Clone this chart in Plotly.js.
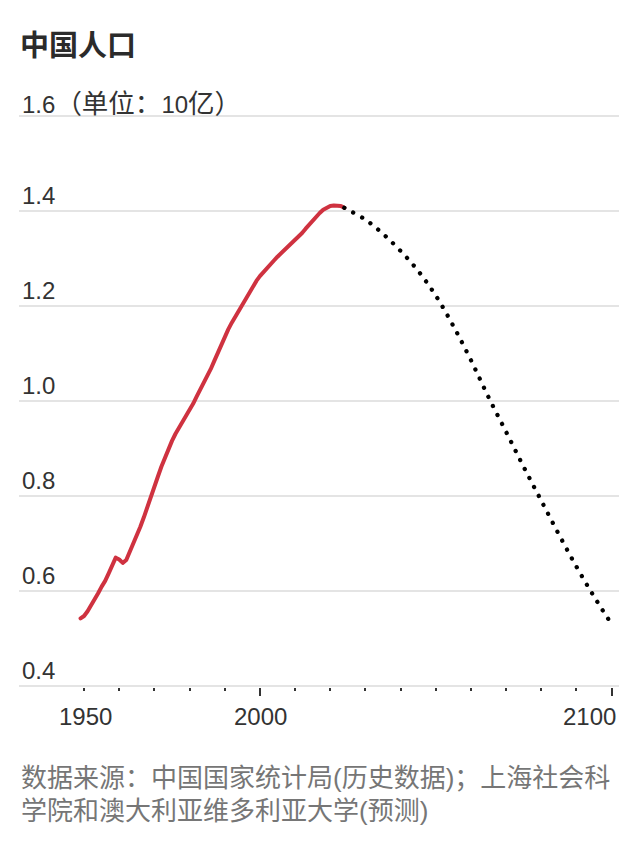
<!DOCTYPE html>
<html><head><meta charset="utf-8">
<script src="https://cdn.plot.ly/plotly-3.0.1.min.js"></script>
<style>
html,body{margin:0;padding:0;background:#fff;}
#chart{width:639px;height:852px;}
path.js-line{stroke-linecap:round;stroke-linejoin:round;}
</style></head><body><div id="chart"></div>
<script>
// ---- data (population, billions) ----
const historyYears = [1949,1950,1951,1952,1953,1954,1955,1956,1957,1958,1959,1960,1961,1962,1963,1964,1965,1966,1967,1968,1969,1970,1971,1972,1973,1974,1975,1976,1977,1978,1979,1980,1981,1982,1983,1984,1985,1986,1987,1988,1989,1990,1991,1992,1993,1994,1995,1996,1997,1998,1999,2000,2001,2002,2003,2004,2005,2006,2007,2008,2009,2010,2011,2012,2013,2014,2015,2016,2017,2018,2019,2020,2021,2022,2023,2024];
const historyValues = [0.542,0.547,0.557,0.569,0.581,0.595,0.609,0.621,0.637,0.653,0.670,0.666,0.659,0.665,0.682,0.698,0.715,0.735,0.755,0.775,0.796,0.818,0.841,0.862,0.882,0.900,0.916,0.931,0.943,0.956,0.969,0.981,0.994,1.009,1.023,1.037,1.051,1.067,1.084,1.102,1.119,1.135,1.151,1.165,1.178,1.192,1.205,1.218,1.230,1.242,1.253,1.263,1.272,1.280,1.288,1.296,1.304,1.311,1.318,1.325,1.331,1.338,1.345,1.354,1.363,1.372,1.380,1.388,1.396,1.403,1.408,1.411,1.412,1.412,1.411,1.407];
const forecastYears = [2024,2025,2030,2035,2040,2045,2050,2055,2060,2065,2070,2075,2080,2085,2090,2095,2100];
const forecastValues = [1.407,1.403,1.382,1.352,1.316,1.274,1.222,1.158,1.086,1.008,0.935,0.861,0.790,0.719,0.651,0.588,0.530];

const yTickValues = [0.4,0.6,0.8,1.0,1.2,1.4,1.6];
const yTickLabels = ['0.4','0.6','0.8','1.0','1.2','1.4','1.6（单位：10亿）'];
const xLabelYears = [1950,2000,2100];
const xLabelTexts = ['1950','2000','2100'];
const xMajorTicks = [2000,2100];
const xMinorTicks = [1950,1960,1970,1980,1990,2010,2020,2030,2040,2050,2060,2070,2080,2090];
const titleText = '中国人口';
const sourceLines = ['数据来源：中国国家统计局(历史数据)；上海社会科','学院和澳大利亚维多利亚大学(预测)'];

// ---- styling ----
const FONT = '"Liberation Sans", Arial, "Noto Sans CJK SC", sans-serif';
const TEXT = '#333333';
const GRAY = '#767676';
const RED = '#cf3240';

// CJK glyphs in the original are drawn a little larger than the Latin digits
function cjkSized(t, px){
  return t.replace(/([^\x00-\x7F]+)/g, '<span style="font-size:' + px + 'px">$1</span>');
}
const hasCJK = t => /[^\x00-\x7F]/.test(t);

const traces = [
  {x: historyYears, y: historyValues, type:'scatter', mode:'lines',
   line:{color:RED, width:4}, hoverinfo:'skip'},
  {x: forecastYears, y: forecastValues, type:'scatter', mode:'lines',
   line:{color:'#000000', width:4.3, dash:'0.1px,10px', shape:'spline', smoothing:1}, hoverinfo:'skip'}
];

const annotations = [];
yTickValues.forEach((v,i)=>{
  const t = yTickLabels[i];
  annotations.push({xref:'paper', x:0, xanchor:'left', xshift:1,
    yref:'y', y:v, yanchor:'middle', yshift: hasCJK(t) ? 12.5 : 15.5,
    text:cjkSized(t, 26.5), showarrow:false, font:{family:FONT, size:24, color:TEXT}});
});
xLabelYears.forEach((yr,i)=>{
  const last = i === xLabelYears.length-1;
  annotations.push({xref:'x', x:yr, xanchor: last ? 'right':'center', xshift: last ? 6 : 1,
    yref:'y', y:0.4, yanchor:'middle', yshift:-30.5,
    text:xLabelTexts[i], showarrow:false, font:{family:FONT, size:24, color:TEXT}});
});
sourceLines.forEach((t,i)=>{
  annotations.push({xref:'paper', x:0, xanchor:'left', xshift:0,
    yref:'paper', y:0, yanchor:'middle', yshift: i===0 ? -90.8 : -124.3,
    text:t, showarrow:false, font:{family:FONT, size:26, color:GRAY}});
});

const layout = {
  width:639, height:852,
  margin:{l:19, r:20, t:114.5, b:165.1, pad:0},
  paper_bgcolor:'#ffffff', plot_bgcolor:'#ffffff',
  showlegend:false, hovermode:false,
  title:{text:titleText, xref:'container', yref:'container', x:20/639, xanchor:'left',
         y:1-46/852, yanchor:'middle',
         font:{family:'"Noto Sans CJK SC", sans-serif', size:29, color:'#2b2b2b', weight:700}},
  xaxis:{range:[1931.5,2102.1], showgrid:false, zeroline:false, showline:false,
         tickmode:'array', tickvals:xMajorTicks, ticks:'outside', ticklen:8, tickwidth:2, tickcolor:TEXT,
         showticklabels:false,
         minor:{tickmode:'array', tickvals:xMinorTicks, ticks:'outside', ticklen:3, tickwidth:2, tickcolor:TEXT, showgrid:false}},
  yaxis:{range:[0.3975,1.6025], showgrid:true, gridcolor:'#e4e4e4', gridwidth:2, zeroline:false,
         showline:false, tickmode:'array', tickvals:yTickValues, showticklabels:false, ticks:''},
  annotations: annotations
};

Plotly.newPlot('chart', traces, layout, {staticPlot:true, displayModeBar:false});
</script></body></html>
